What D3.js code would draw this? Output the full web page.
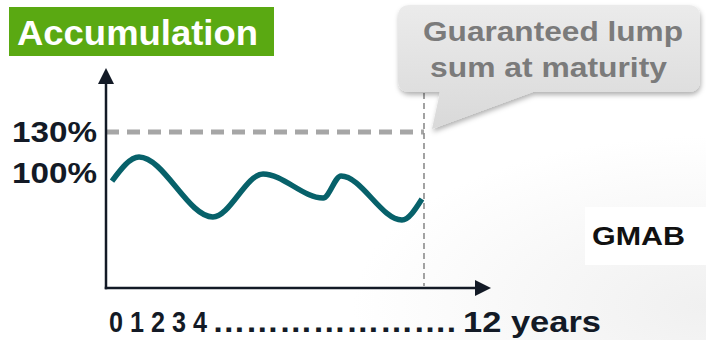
<!DOCTYPE html>
<html>
<head>
<meta charset="utf-8">
<script src="https://cdn.jsdelivr.net/npm/d3@7"></script>
<style>
html,body{margin:0;padding:0;background:#fff;}
svg{display:block;}
text{font-family:"Liberation Sans",Arial,sans-serif;font-weight:bold;}
</style>
</head>
<body>
<svg id="chart" width="706" height="340"></svg>
<script>
// ---- data ----
const years = [0, 1.04, 3.88, 5.81, 8.12, 8.81, 11.15, 11.92];
const fundValue = [94.1, 111.7, 67.8, 99.3, 81.7, 97.8, 65.6, 81.0];
const guaranteeLevel = 130;
const maturityYear = 12;
const yTickLabels = [{v:130, label:"130%"}, {v:100, label:"100%"}];
const xLabelParts = ["0 1 2 3 4", "………………….", "12 years"];
const titleText = "Accumulation";
const calloutLines = ["Guaranteed lump", "sum at maturity"];
const productText = "GMAB";

// ---- layout ----
const svg = d3.select("#chart");
const axisX = 106, axisBottom = 288, axisTop = 68, axisRight = 491;
const x = d3.scaleLinear().domain([0, maturityYear]).range([112, 424]);
const y = d3.scaleLinear().domain([100, 130]).range([173, 132]);
const dark = "#131a26";

const defs = svg.append("defs");
const bg = defs.append("radialGradient").attr("id","bg").attr("cx","1").attr("cy","0.9").attr("r","0.5");
bg.append("stop").attr("offset","0").attr("stop-color","#f0f0f0");
bg.append("stop").attr("offset","1").attr("stop-color","#ffffff");
const bub = defs.append("linearGradient").attr("id","bub").attr("x1",0).attr("y1",0).attr("x2",0).attr("y2",1);
bub.append("stop").attr("offset","0").attr("stop-color","#ebebeb");
bub.append("stop").attr("offset","1").attr("stop-color","#d9d9d9");
const sh = defs.append("filter").attr("id","sh").attr("x","-10%").attr("y","-10%").attr("width","130%").attr("height","150%");
sh.append("feDropShadow").attr("dx",1).attr("dy",3).attr("stdDeviation",2.5).attr("flood-color","#000").attr("flood-opacity",0.3);

// background
svg.append("rect").attr("width",706).attr("height",340).attr("fill","url(#bg)");
svg.append("rect").attr("x",585).attr("y",207).attr("width",121).attr("height",58).attr("fill","#fff");

// title box
svg.append("rect").attr("x",9).attr("y",7).attr("width",265).attr("height",49).attr("fill","#5aa912");
svg.append("text").attr("x",17).attr("y",45).attr("font-size",35).attr("fill","#fff")
  .attr("textLength",241).attr("lengthAdjust","spacingAndGlyphs").text(titleText);

// guarantee dashed line
svg.append("line").attr("x1",axisX).attr("x2",x(maturityYear))
  .attr("y1",y(guaranteeLevel)).attr("y2",y(guaranteeLevel))
  .attr("stroke","#a6a6a6").attr("stroke-width",5).attr("stroke-dasharray","13,8");

// maturity vertical dashed line
svg.append("line").attr("x1",x(maturityYear)).attr("x2",x(maturityYear))
  .attr("y1",93).attr("y2",axisBottom-2)
  .attr("stroke","#8c8c8c").attr("stroke-width",1.6).attr("stroke-dasharray","6,4");

// callout bubble
const bL=398,bT=5,bR=700,bB=92,r=12;
const tip=[432,129];
const bubblePath = `M${bL+r},${bT} H${bR-r} Q${bR},${bT} ${bR},${bT+r} V${bB-r} Q${bR},${bB} ${bR-r},${bB}
 H533 L${tip[0]},${tip[1]} L440,${bB} H${bL+r} Q${bL},${bB} ${bL},${bB-r} V${bT+r} Q${bL},${bT} ${bL+r},${bT} Z`;
svg.append("path").attr("d",bubblePath).attr("fill","url(#bub)").attr("filter","url(#sh)");
svg.append("text").attr("x",423).attr("y",41).attr("font-size",28).attr("fill","#7b7b7b")
  .attr("textLength",260).attr("lengthAdjust","spacingAndGlyphs").text(calloutLines[0]);
svg.append("text").attr("x",430).attr("y",77).attr("font-size",28).attr("fill","#7b7b7b")
  .attr("textLength",237).attr("lengthAdjust","spacingAndGlyphs").text(calloutLines[1]);

// axes
svg.append("line").attr("x1",axisX).attr("x2",axisX).attr("y1",axisTop+12).attr("y2",axisBottom+1.25)
  .attr("stroke",dark).attr("stroke-width",2.5);
svg.append("line").attr("x1",axisX-1.25).attr("x2",axisRight-12).attr("y1",axisBottom).attr("y2",axisBottom)
  .attr("stroke",dark).attr("stroke-width",2.5);
svg.append("path").attr("d",`M${axisX},${axisTop} L${axisX+8},${axisTop+16} L${axisX-8},${axisTop+16} Z`).attr("fill",dark);
svg.append("path").attr("d",`M${axisRight},${axisBottom} L${axisRight-16},${axisBottom-8} L${axisRight-16},${axisBottom+8} Z`).attr("fill",dark);

// y labels
svg.selectAll(".ylab").data(yTickLabels).join("text").attr("class","ylab")
  .attr("x",12).attr("y",d=>y(d.v)+9.5).attr("font-size",30).attr("fill",dark)
  .attr("textLength",85).attr("lengthAdjust","spacingAndGlyphs").text(d=>d.label);

// fund value line
const pts = years.map((t,i)=>[t,fundValue[i]]);
const line = d3.line().x(d=>x(d[0])).y(d=>y(d[1])).curve(d3.curveMonotoneX);
svg.append("path").datum(pts).attr("d",line).attr("fill","none")
  .attr("stroke","#07616a").attr("stroke-width",5.5).attr("stroke-linecap","butt");

// x label
const xlPos = [[109,98],[212,244],[463,138]];
svg.selectAll(".xlab").data(xLabelParts).join("text").attr("class","xlab")
  .attr("x",(d,i)=>xlPos[i][0]).attr("y",332).attr("font-size",29).attr("fill",dark)
  .attr("textLength",(d,i)=>xlPos[i][1]).attr("lengthAdjust","spacingAndGlyphs").text(d=>d);

// product label
svg.append("text").attr("x",592).attr("y",245).attr("font-size",25).attr("fill","#111")
  .attr("textLength",93).attr("lengthAdjust","spacingAndGlyphs").text(productText);
</script>
</body>
</html>
